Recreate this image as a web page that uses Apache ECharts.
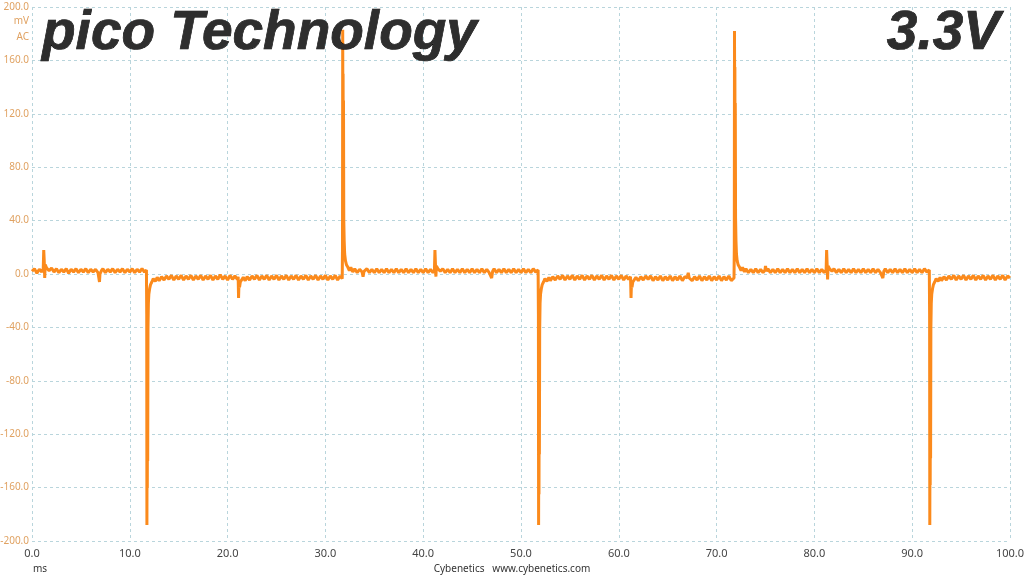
<!DOCTYPE html>
<html>
<head>
<meta charset="utf-8">
<script src="https://cdn.jsdelivr.net/npm/echarts@6/dist/echarts.min.js"></script>
<style>
html,body{margin:0;padding:0;background:#fff;}
#chart{width:1024px;height:576px;}
</style>
</head>
<body>
<div id="chart"></div>
<script>
// ---- data: [time ms, voltage mV] ----
const cycleA = [[0,2],[0.25,4],[0.5,0.5],[0.75,3.5],[1.0,1.5],[1.15,4],[1.2,18],[1.25,10],[1.3,-3],[1.35,7],[1.5,4.5],[1.75,2.5],[2,4.5],[2.25,1.5],[2.5,4],[2.75,1],[3,3.5],[3.25,1.5],[3.5,4],[3.75,0.5],[4,3.5],[4.25,1.5],[4.5,4],[4.75,1],[5,3.5],[5.25,1.5],[5.5,4],[5.75,1],[6,3.5],[6.25,1.5],[6.5,3.5],[6.75,1],[6.9,-6],[6.95,0],[7.1,2.5],[7.25,4],[7.5,1],[7.75,3.5],[8,1.5],[8.25,4],[8.5,1],[8.75,3.5],[9,1.5],[9.25,4],[9.5,1],[9.75,3.5],[10,1.5],[10.25,4],[10.5,1],[10.75,3.5],[11,1.5],[11.25,4],[11.5,1.5],[11.7,3],
[11.73,-30],[11.75,-188],[11.77,-120],[11.79,-160],[11.81,-75],[11.83,-140],[11.86,-40],[11.9,-22],[11.95,-15],[12.03,-11],[12.12,-8],[12.25,-6],[12.4,-3.5],[12.6,-5.5],[12.8,-2.5],[13,-5],[13.25,-2],[13.5,-4.5],[13.75,-1.5],[14,-4],[14.25,-1],[14.5,-4.5],[14.75,-1.5],[15,-4],[15.25,-1],[15.5,-4.5],[15.75,-1.5],[16,-4],[16.25,-1],[16.5,-4.5],[16.75,-1.5],[17,-4],[17.25,-1],[17.5,-4.5],[17.75,-1.5],[18,-4],[18.25,-1],[18.5,-4.5],[18.75,-1.5],[19,-4],[19.25,-0.5],[19.5,-4],[19.75,-1.5]];
const cycleB = [[20,-4.5],[20.25,-1],[20.5,-4],[20.75,-1.5],[21,-4],[21.08,-2],[21.12,-18],[21.16,-8],[21.22,-10],[21.3,-6],[21.45,-5],[21.6,-2.5],[21.8,-5],[22,-2],[22.25,-4.5],[22.5,-1.5],[22.75,-4],[23,-1],[23.25,-4.5],[23.5,-1.5],[23.75,-4],[24,-1],[24.25,-4.5],[24.5,-1.5],[24.75,-4],[25,-1],[25.25,-4.5],[25.5,-1.5],[25.75,-4],[26,-1],[26.25,-4.5],[26.5,-1.5],[26.75,-4],[27,-1],[27.25,-4.5],[27.5,-1.5],[27.75,-4],[28,-1],[28.25,-4.5],[28.5,-1.5],[28.75,-4],[29,-1],[29.25,-4.5],[29.5,-1.5],[29.75,-4],[30,-1],[30.25,-4.5],[30.5,-1.5],[30.75,-4],[31,-1],[31.25,-4.5],[31.5,-1.5],[31.72,-3.5],
[31.75,20],[31.77,183],[31.79,120],[31.81,150],[31.83,60],[31.85,130],[31.88,40],[31.92,25],[31.97,15],[32.05,10],[32.15,7],[32.3,5],[32.45,2.5],[32.6,5],[32.8,1.5],[33,4],[33.25,1],[33.5,3.5],[33.75,1.5],[33.85,-2],[33.95,2],[34.25,4],[34.5,1],[34.75,3.5],[35,1],[35.25,4],[35.5,1],[35.75,3.5],[36,1],[36.25,4],[36.5,1],[36.75,3.5],[37,1],[37.25,4],[37.5,1],[37.75,3.5],[38,1],[38.25,4],[38.5,1],[38.75,3.5],[39,1],[39.25,4],[39.5,1],[39.75,3.5]];
const cycleC = [[40,1],[40.25,4],[40.5,1],[40.75,3.5],[41,1],[41.15,3],[41.2,18],[41.25,8],[41.3,-2],[41.35,6],[41.5,4],[41.75,2],[42,4],[42.25,1],[42.5,3.5],[42.75,1],[43,4],[43.25,1],[43.5,3.5],[43.75,1],[44,4],[44.25,1],[44.5,3.5],[44.75,1],[45,4],[45.25,1],[45.5,3.5],[45.75,1],[46,4],[46.25,1],[46.5,3.5],[46.75,1],[47,-3],[47.1,2],[47.25,4],[47.5,1],[47.75,3.5],[48,1],[48.25,4],[48.5,1],[48.75,3.5],[49,1],[49.25,4],[49.5,1],[49.75,3.5],[50,1],[50.25,4],[50.5,1],[50.75,3.5],[51,1],[51.25,4],[51.5,1.5],[51.75,3],
[51.78,-30],[51.8,-188],[51.82,-115],[51.84,-165],[51.86,-70],[51.88,-135],[51.91,-42],[51.95,-22],[52,-15],[52.08,-11],[52.17,-8],[52.3,-6],[52.45,-3.5],[52.65,-5.5],[52.85,-2.5],[53,-5],[53.25,-2],[53.5,-4.5],[53.75,-1.5],[54,-4],[54.25,-1],[54.5,-4.5],[54.75,-1.5],[55,-4],[55.25,-1],[55.5,-4.5],[55.75,-1.5],[56,-4],[56.25,-1],[56.5,-4.5],[56.75,-1.5],[57,-4],[57.25,-1],[57.5,-4.5],[57.75,-1.5],[58,-4],[58.25,-1],[58.5,-4.5],[58.75,-1.5],[59,-4],[59.25,-1],[59.5,-4.5],[59.75,-1.5]];
const cycleD = [[60,-4],[60.25,-1],[60.5,-4.5],[60.75,-1.5],[61,-4],[61.2,-2],[61.25,-18],[61.29,-8],[61.35,-10],[61.43,-6],[61.6,-5],[61.75,-2.5],[62,-5],[62.25,-2],[62.5,-4.5],[62.75,-1.5],[63,-4],[63.25,-1.5],[63.5,-5],[63.75,-2],[64,-4.5],[64.25,-1.5],[64.5,-5],[64.75,-2],[65,-4.5],[65.25,-1.5],[65.5,-5],[65.75,-2],[66,-4.5],[66.25,-1.5],[66.5,-5],[66.75,-2],[67,-3],[67.1,1],[67.2,-3],[67.5,-5],[67.75,-2],[68,-4.5],[68.25,-1.5],[68.5,-5],[68.75,-2],[69,-4.5],[69.25,-1.5],[69.5,-5],[69.75,-2],[70,-4.5],[70.25,-1.5],[70.5,-5],[70.75,-2],[71,-4.5],[71.25,-1.5],[71.5,-5],[71.78,-3],
[71.81,20],[71.83,182],[71.85,125],[71.87,155],[71.89,60],[71.91,128],[71.94,42],[71.98,25],[72.03,15],[72.1,10],[72.2,7],[72.35,5],[72.5,2.5],[72.65,5],[72.85,1.5],[73,4],[73.25,1],[73.5,3.5],[73.75,1],[74,4],[74.25,1],[74.5,3.5],[74.75,1],[74.95,3],[75,6],[75.1,2],[75.25,4],[75.5,1],[75.75,3.5],[76,1],[76.25,4],[76.5,1],[76.75,3.5],[77,1],[77.25,4],[77.5,1],[77.75,3.5],[78,1],[78.25,4],[78.5,1],[78.75,3.5],[79,1],[79.25,4],[79.5,1],[79.75,3.5]];
const cycleE = [[80,1],[80.25,4],[80.5,1],[80.75,3.5],[81,1],[81.2,3],[81.25,18],[81.3,8],[81.35,-4],[81.4,6],[81.55,4],[81.8,2],[82,4],[82.25,1],[82.5,3.5],[82.75,1],[83,4],[83.25,1],[83.5,3.5],[83.75,1],[84,4],[84.25,1],[84.5,3.5],[84.75,1],[85,4],[85.25,1],[85.5,3.5],[85.75,1],[86,4],[86.25,1],[86.5,3.5],[86.75,1],[87,-3],[87.1,2],[87.25,4],[87.5,1],[87.75,3.5],[88,1],[88.25,4],[88.5,1],[88.75,3.5],[89,1],[89.25,4],[89.5,1],[89.75,3.5],[90,1],[90.25,4],[90.5,1],[90.75,3.5],[91,1],[91.25,4],[91.5,1.5],[91.75,3],
[91.78,-30],[91.8,-188],[91.82,-118],[91.84,-158],[91.86,-72],[91.88,-138],[91.91,-40],[91.95,-22],[92,-15],[92.08,-11],[92.17,-8],[92.3,-6],[92.45,-3.5],[92.65,-5.5],[92.85,-2.5],[93,-5],[93.25,-2],[93.5,-4.5],[93.75,-1.5],[94,-4],[94.25,-1],[94.5,-4.5],[94.75,-1.5],[95,-4],[95.25,-1],[95.5,-4.5],[95.75,-1.5],[96,-4],[96.25,-1],[96.5,-4.5],[96.75,-1.5],[97,-4],[97.25,-1],[97.5,-4.5],[97.75,-1.5],[98,-4],[98.25,-1],[98.5,-4.5],[98.75,-1.5],[99,-4],[99.25,-1],[99.5,-4.5],[99.75,-1.5],[100,-3]];

const xTicks = [0,10,20,30,40,50,60,70,80,90,100];
const yTicks = [-200,-160,-120,-80,-40,0,40,80,120,160,200];
const titleText = 'pico Technology';
const railText = '3.3V';
const yUnitLines = ['mV','AC'];
const xUnit = 'ms';
const creditText = 'Cybenetics   www.cybenetics.com';

const trace = [].concat(cycleA, cycleB, cycleC, cycleD, cycleE);

const chart = echarts.init(document.getElementById('chart'), null, {renderer:'canvas'});
const gridLine = {show:true, lineStyle:{color:'#b9d5dc', type:[3,3], width:1}};
const metalStyle = {
  fill:'#2e2e2e', stroke:'#000', lineWidth:0.7,
  font:'italic bold 55px "Liberation Sans"', verticalAlign:'middle',
  shadowBlur:4, shadowColor:'rgba(0,0,0,0.4)', shadowOffsetX:2, shadowOffsetY:3
};

chart.setOption({
  animation:false,
  backgroundColor:'#ffffff',
  grid:{left:32, right:14, top:7, bottom:35, containLabel:false, outerBoundsMode:'none'},
  xAxis:{
    type:'value', min:xTicks[0], max:xTicks[xTicks.length-1], interval:10,
    axisLine:{show:false}, axisTick:{show:false},
    splitLine:gridLine,
    axisLabel:{color:'#444', fontSize:11, fontFamily:'Noto Sans', margin:7,
      formatter:v=>v.toFixed(1)}
  },
  yAxis:{
    type:'value', min:yTicks[0], max:yTicks[yTicks.length-1], interval:40,
    axisLine:{show:false}, axisTick:{show:false},
    splitLine:gridLine,
    axisLabel:{color:'#e0a262', fontSize:10, fontFamily:'Noto Sans', margin:3,
      formatter:v=>v.toFixed(1)}
  },
  series:[{
    type:'line', data:trace, showSymbol:false, symbol:'none', sampling:null,
    lineStyle:{color:'#fb8a1c', width:3, join:'bevel'},
    z:3
  }],
  graphic:[
    {type:'text', x:29, y:21, style:{text:yUnitLines[0], fill:'#e0a262', font:'10px "Noto Sans"', align:'right', verticalAlign:'middle'}},
    {type:'text', x:29, y:37, style:{text:yUnitLines[1], fill:'#e0a262', font:'10px "Noto Sans"', align:'right', verticalAlign:'middle'}},
    {type:'text', x:33, y:569, style:{text:xUnit, fill:'#333', font:'10px "Noto Sans"', align:'left', verticalAlign:'middle'}},
    {type:'text', x:512, y:569, style:{text:creditText, fill:'#333', font:'10px "Noto Sans"', align:'center', verticalAlign:'middle'}},
    {type:'text', x:42, y:34, z:10, style:Object.assign({text:titleText, align:'left'}, metalStyle)},
    {type:'text', x:1000, y:34, z:10, style:Object.assign({text:railText, align:'right'}, metalStyle)}
  ]
});
</script>
</body>
</html>
